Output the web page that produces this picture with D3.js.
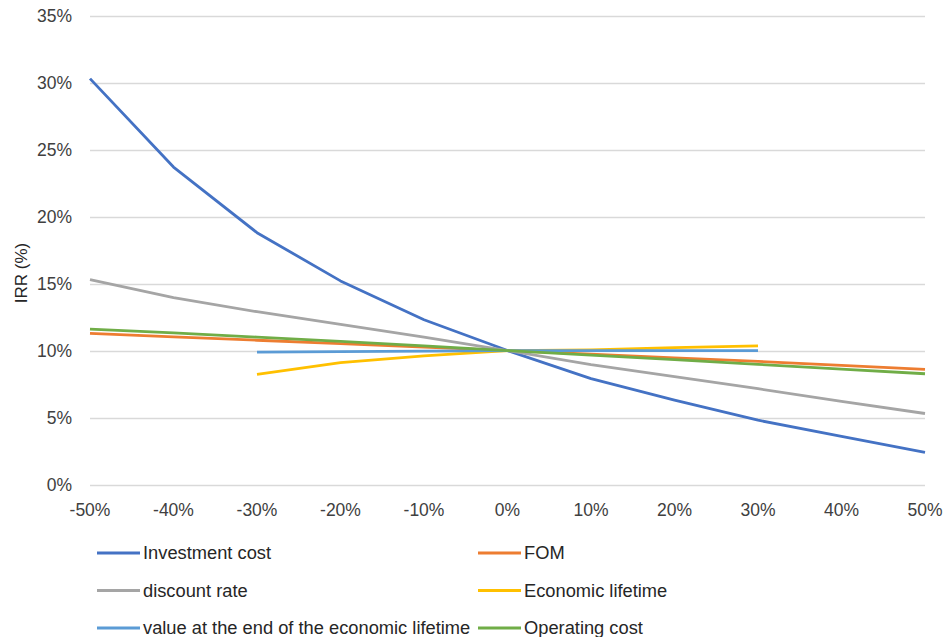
<!DOCTYPE html>
<html>
<head>
  <meta charset="utf-8">
  <script src="https://d3js.org/d3.v7.min.js"></script>
  <style>
    body { margin: 0; background: #fff; }
    text { font-family: "Liberation Sans", Arial, sans-serif; }
  </style>
</head>
<body>
<script>
// x categories (change of parameter)
var categories = ["-50%", "-40%", "-30%", "-20%", "-10%", "0%", "10%", "20%", "30%", "40%", "50%"];
var yTicks = [0, 5, 10, 15, 20, 25, 30, 35];

// IRR values (%)
var investmentCost = [30.3, 23.7, 18.8, 15.2, 12.3, 10.0, 7.9, 6.3, 4.8, 3.6, 2.4];
var fom            = [11.28, 11.02, 10.77, 10.51, 10.25, 10.0, 9.73, 9.46, 9.19, 8.9, 8.6];
var discountRate   = [15.3, 13.95, 12.9, 11.95, 11.0, 10.0, 8.95, 8.05, 7.15, 6.2, 5.3];
var econLifetime   = [null, null, 8.22, 9.1, 9.6, 10.0, 10.05, 10.22, 10.35, null, null];
var endValue       = [null, null, 9.88, 9.92, 9.96, 10.0, 10.0, 10.0, 10.0, null, null];
var operatingCost  = [11.6, 11.32, 11.0, 10.68, 10.35, 10.0, 9.66, 9.32, 8.97, 8.62, 8.27];

var seriesNames  = ["Investment cost", "FOM", "discount rate", "Economic lifetime",
                    "value at the end of the economic lifetime", "Operating cost"];
var seriesValues = [investmentCost, fom, discountRate, econLifetime, endValue, operatingCost];
var seriesColors = ["#4472C4", "#ED7D31", "#A5A5A5", "#FFC000", "#5B9BD5", "#70AD47"];

var W = 944, H = 637;
var svg = d3.select("body").append("svg")
    .attr("width", W)
    .attr("height", H);

var x = d3.scalePoint().domain(categories).range([90, 925]).padding(0);
var y = d3.scaleLinear().domain([0, 35]).range([484.5, 15.7]);

// gridlines
svg.append("g")
  .selectAll("line")
  .data(yTicks)
  .enter().append("line")
    .attr("x1", 90).attr("x2", 925)
    .attr("y1", function (d) { return Math.round(y(d)) + 0.5; })
    .attr("y2", function (d) { return Math.round(y(d)) + 0.5; })
    .attr("stroke", "#d9d9d9")
    .attr("stroke-width", 1.3);

// y tick labels
svg.append("g")
  .selectAll("text")
  .data(yTicks)
  .enter().append("text")
    .attr("x", 72)
    .attr("y", function (d) { return y(d); })
    .attr("dy", "0.35em")
    .attr("text-anchor", "end")
    .style("font-size", "17.5px")
    .style("fill", "#404040")
    .text(function (d) { return d + "%"; });

// x tick labels
svg.append("g")
  .selectAll("text")
  .data(categories)
  .enter().append("text")
    .attr("x", function (d) { return x(d); })
    .attr("y", 510)
    .attr("dy", "0.35em")
    .attr("text-anchor", "middle")
    .style("font-size", "17.5px")
    .style("fill", "#404040")
    .text(function (d) { return d; });

// axis title
svg.append("text")
  .attr("transform", "translate(21,273) rotate(-90)")
  .attr("dy", "0.35em")
  .attr("text-anchor", "middle")
  .style("font-size", "17px")
  .style("fill", "#262626")
  .text("IRR (%)");

// series lines
var line = d3.line()
  .defined(function (d) { return d.v != null; })
  .x(function (d) { return x(d.c); })
  .y(function (d) { return y(d.v); });

seriesValues.forEach(function (vals, i) {
  var pts = vals.map(function (v, j) { return { c: categories[j], v: v }; });
  svg.append("path")
    .datum(pts)
    .attr("fill", "none")
    .attr("stroke", seriesColors[i])
    .attr("stroke-width", 2.8)
    .attr("stroke-linejoin", "round")
    .attr("d", line);
});

// legend, two columns
var legend = svg.append("g")
  .selectAll("g")
  .data(seriesNames)
  .enter().append("g")
    .attr("transform", function (d, i) {
      var col = i % 2, row = Math.floor(i / 2);
      return "translate(" + (col === 0 ? 97 : 478) + "," + (553 + row * 37.5) + ")";
    });

legend.append("line")
  .attr("x1", 0).attr("x2", 43)
  .attr("y1", 0).attr("y2", 0)
  .attr("stroke", function (d, i) { return seriesColors[i]; })
  .attr("stroke-width", 2.8);

legend.append("text")
  .attr("x", 46)
  .attr("y", 0)
  .attr("dy", "0.35em")
  .style("font-size", "18.3px")
  .style("fill", "#262626")
  .text(function (d) { return d; });
</script>
</body>
</html>
